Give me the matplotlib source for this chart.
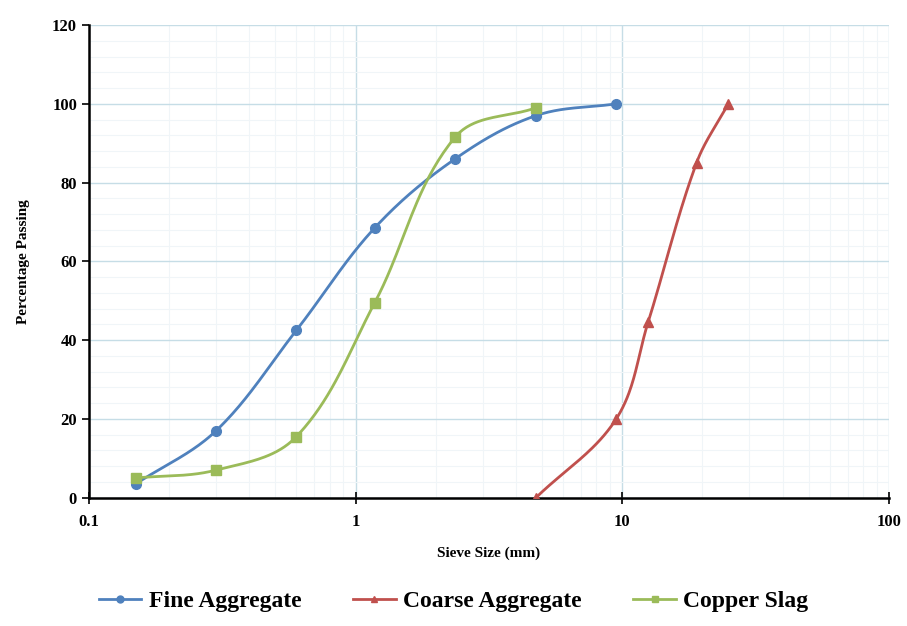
import matplotlib
matplotlib.use("Agg")
import matplotlib.pyplot as plt
from matplotlib.ticker import FixedLocator, MultipleLocator, FuncFormatter
import numpy as np

plt.rcParams['font.family'] = ['Liberation Serif', 'DejaVu Serif']
plt.rcParams['font.weight'] = 'bold'

# sieve sizes (mm) and percentage passing
fine_size = [0.15, 0.3, 0.6, 1.18, 2.36, 4.75, 9.5]
fine_pass = [3.5, 17, 42.5, 68.5, 86, 97, 100]
coarse_size = [4.75, 9.5, 12.5, 19, 25]
coarse_pass = [0, 20, 44.5, 85, 100]
slag_size = [0.15, 0.3, 0.6, 1.18, 2.36, 4.75]
slag_pass = [5, 7, 15.5, 49.5, 91.5, 99]

labels = ['Fine Aggregate', 'Coarse Aggregate', 'Copper Slag']
colors = ['#4F81BD', '#C0504D', '#9BBB59']
markers = ['o', '^', 's']

# rough screen scale: px per decade, px per percent
SX, SY = 267.0, 3.94


def smooth(xs, ys, n=40):
    # bezier through the points with tangents from neighbours, done in screen space
    P = np.column_stack([np.log10(np.asarray(xs, float)) * SX, np.asarray(ys, float) * SY])
    m = len(P)
    T = np.zeros_like(P)
    for i in range(m):
        a = P[max(i - 1, 0)]
        b = P[min(i + 1, m - 1)]
        d = b - a
        T[i] = d / np.hypot(*d)
    t = np.linspace(0, 1, n)[:, None]
    out = []
    for i in range(m - 1):
        L = np.hypot(*(P[i + 1] - P[i])) * 0.35
        c0, c3 = P[i], P[i + 1]
        c1 = c0 + T[i] * L
        c2 = c3 - T[i + 1] * L
        seg = (1 - t) ** 3 * c0 + 3 * (1 - t) ** 2 * t * c1 + 3 * (1 - t) * t ** 2 * c2 + t ** 3 * c3
        out.append(seg)
    out = np.vstack(out)
    return 10 ** (out[:, 0] / SX), out[:, 1] / SY


fig = plt.figure(figsize=(9.07, 6.26), dpi=100)
ax = fig.add_axes([0.098, 0.205, 0.882, 0.755])

series = [(fine_size, fine_pass), (coarse_size, coarse_pass), (slag_size, slag_pass)]
for (xs, ys), lab, c, m in zip(series, labels, colors, markers):
    sx, sy = smooth(xs, ys)
    ax.plot(sx, sy, color=c, lw=2, zorder=3)
    ax.plot(xs, ys, ls='none', marker=m, ms=7, color=c, zorder=4)
    ax.plot([], [], color=c, lw=2, marker=m, ms=5, label=lab)

ax.set_xscale('log')
ax.set_xlim(0.1, 100)
ax.set_ylim(0, 120)
ax.yaxis.set_major_locator(MultipleLocator(20))
ax.yaxis.set_minor_locator(MultipleLocator(4))
ax.xaxis.set_major_locator(FixedLocator([0.1, 1, 10, 100]))
ax.xaxis.set_major_formatter(FuncFormatter(lambda v, p: '%g' % v))

ax.grid(which='major', color='#c6dde6', lw=1)
ax.grid(which='minor', color='#f0f5f8', lw=0.8)
ax.set_axisbelow(True)

for s in ['top', 'right']:
    ax.spines[s].set_visible(False)
ax.spines['left'].set_linewidth(1.8)
ax.spines['bottom'].set_linewidth(1.8)
ax.tick_params(which='minor', length=0)
ax.tick_params(axis='x', which='major', direction='inout', length=8, width=1.2, labelsize=12, pad=8)
ax.tick_params(axis='y', which='major', direction='out', length=5, width=1.2, labelsize=12)

ax.set_xlabel('Sieve Size (mm)', fontsize=11, fontweight='bold', labelpad=12)
ax.set_ylabel('Percentage Passing', fontsize=11, fontweight='bold', labelpad=16)

fig.legend(loc='lower center', bbox_to_anchor=(0.5, -0.012), ncol=3, frameon=False,
           prop={'size': 17, 'weight': 'bold'}, handlelength=1.8, columnspacing=2.2,
           handletextpad=0.3)

fig.savefig('out.png', dpi=100)
